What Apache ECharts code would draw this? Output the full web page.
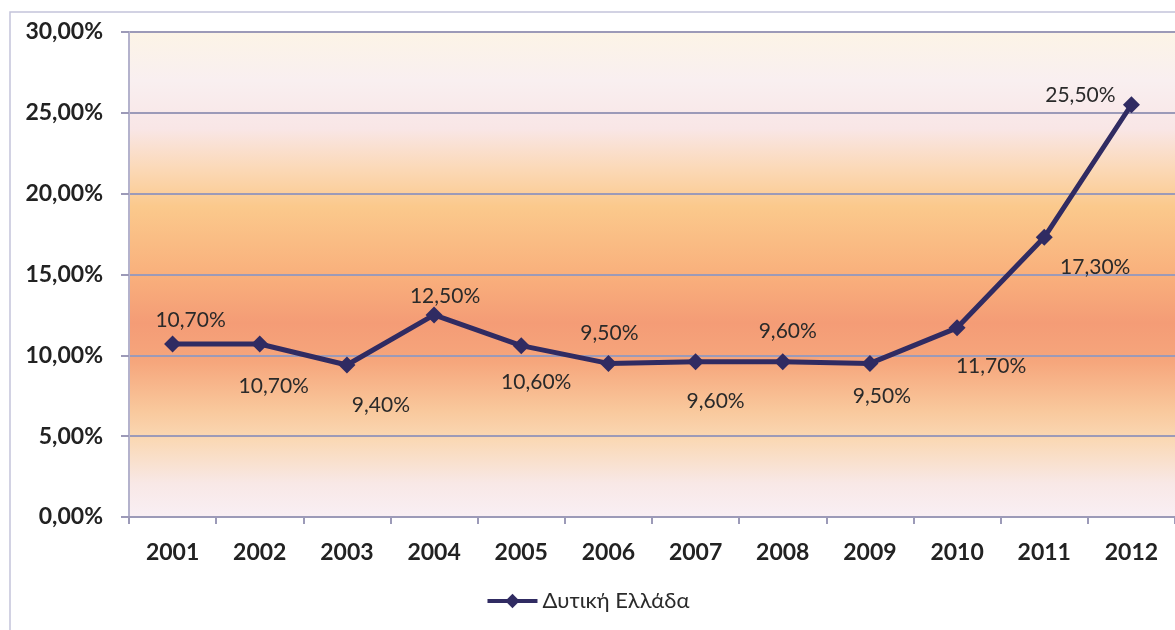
<!DOCTYPE html>
<html>
<head>
<meta charset="utf-8">
<script src="https://cdn.jsdelivr.net/npm/echarts@6/dist/echarts.min.js"></script>
<style>
html,body{margin:0;padding:0;background:#fff;}
#c{width:1175px;height:630px;}
</style>
</head>
<body>
<div id="c"></div>
<script>
const years = ['2001','2002','2003','2004','2005','2006','2007','2008','2009','2010','2011','2012'];
const values = [10.7, 10.7, 9.4, 12.5, 10.6, 9.5, 9.6, 9.6, 9.5, 11.7, 17.3, 25.5];
const seriesName = 'Δυτική Ελλάδα';
const yTicks = [0, 5, 10, 15, 20, 25, 30];

// label placement (style only)
const labelOffsets = [[18,-24],[14,42],[34,40],[11,-19],[15,37],[1,-30],[20,39],[5,-31],[12,33],[34,38],[51,30],[-51,-10]];

const fmt = v => v.toFixed(2).replace('.', ',') + '%';

const chart = echarts.init(document.getElementById('c'), null, {renderer:'canvas'});
const bg = new echarts.graphic.LinearGradient(0, 0, 0, 1, [
  {offset: 0.00, color: '#fcf4e6'},
  {offset: 0.10, color: '#f9eff0'},
  {offset: 0.20, color: '#f9e6e6'},
  {offset: 0.28, color: '#fbd9b8'},
  {offset: 0.36, color: '#fbc98c'},
  {offset: 0.50, color: '#f9b07c'},
  {offset: 0.60, color: '#f49c76'},
  {offset: 0.68, color: '#f6a67c'},
  {offset: 0.78, color: '#f9c89c'},
  {offset: 0.84, color: '#fad8b4'},
  {offset: 0.93, color: '#f8e8e6'},
  {offset: 1.00, color: '#f9eff4'}
]);

chart.setOption({
  animation: false,
  backgroundColor: '#ffffff',
  textStyle: {fontFamily: 'Lato, "Open Sans", sans-serif'},
  graphic: [{
    type: 'polyline',
    shape: {points: [[10, 630], [10, 12], [1175, 12]]},
    style: {stroke: '#c4c4da', lineWidth: 1.5, fill: null},
    silent: true
  }],
  grid: {
    left: 129, right: -11, top: 32, bottom: 113,
    show: true, borderWidth: 0, backgroundColor: bg
  },
  legend: {
    bottom: 13, left: 'center',
    itemWidth: 50, itemHeight: 18, itemGap: 10,
    data: [seriesName],
    lineStyle: {width: 4},
    textStyle: {fontSize: 22, color: '#2a2a2a', fontFamily: 'Lato, sans-serif'}
  },
  xAxis: {
    type: 'category',
    data: years,
    boundaryGap: true,
    axisLine: {lineStyle: {color: '#9c9ab8', width: 2}},
    axisTick: {show: true, length: 7, lineStyle: {color: '#9c9ab8', width: 2}},
    axisLabel: {fontSize: 23, fontWeight: 'bold', color: '#222', margin: 24, fontFamily: 'Lato, sans-serif'},
    splitLine: {show: false}
  },
  yAxis: {
    type: 'value',
    min: 0, max: 30, interval: 5,
    axisLine: {show: true, lineStyle: {color: '#b4b2cc', width: 2}},
    axisTick: {show: true, length: 8, lineStyle: {color: '#9c9ab8', width: 2}},
    axisLabel: {fontSize: 23, fontWeight: 'bold', color: '#222', margin: 26,
      fontFamily: 'Lato, sans-serif',
      formatter: v => yTicks.includes(v) ? v.toFixed(2).replace('.', ',') + '%' : ''},
    splitLine: {show: true, lineStyle: {color: '#9c9ab8', width: 2}}
  },
  series: [{
    name: seriesName,
    type: 'line',
    data: values.map((v, i) => ({
      value: v,
      label: {offset: labelOffsets[i]}
    })),
    symbol: 'diamond',
    symbolSize: 17,
    lineStyle: {color: '#302b62', width: 5},
    itemStyle: {color: '#302b62'},
    label: {
      show: true,
      position: 'inside',
      fontSize: 21,
      color: '#2a2a2a',
      fontFamily: 'Lato, sans-serif',
      formatter: p => fmt(p.value)
    }
  }]
});
</script>
</body>
</html>
